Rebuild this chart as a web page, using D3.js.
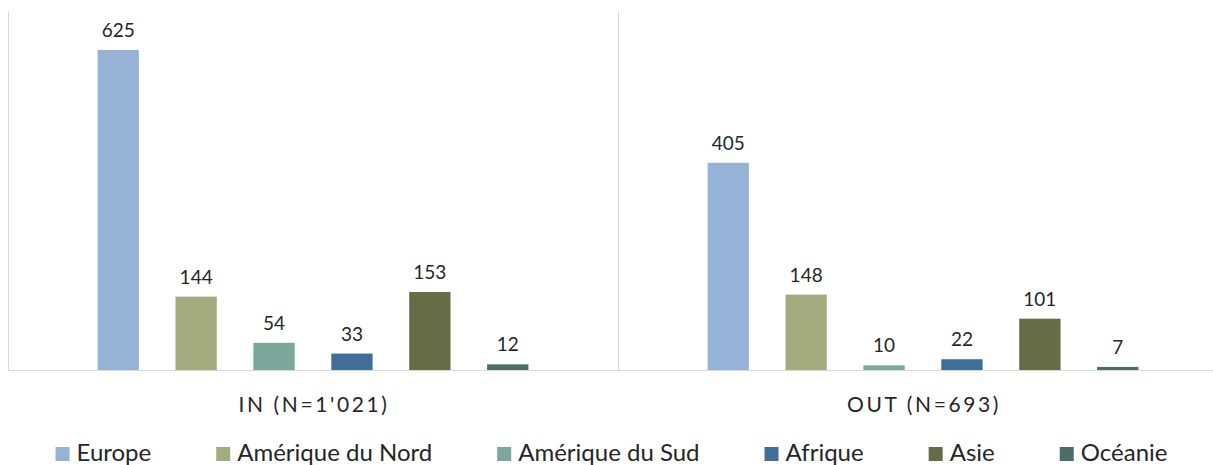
<!DOCTYPE html>
<html>
<head>
<meta charset="utf-8">
<script src="https://cdn.jsdelivr.net/npm/d3@7"></script>
<style>
  body { margin: 0; background: #fff; }
  text { font-family: Lato, "Noto Sans", sans-serif; fill: #262626; }
</style>
</head>
<body>
<div id="chart"></div>
<script>
// categories + series
var groups = ["IN (N=1'021)", "OUT (N=693)"];
var regions = ["Europe", "Amérique du Nord", "Amérique du Sud", "Afrique", "Asie", "Océanie"];
var inValues = [625, 144, 54, 33, 153, 12];
var outValues = [405, 148, 10, 22, 101, 7];
var colors = ["#95b3d6", "#a4ab7f", "#7ba89b", "#3f6e98", "#666c46", "#4a6d65"];

var width = 1213, height = 465;

var svg = d3.select("#chart")
  .append("svg")
  .attr("width", width)
  .attr("height", height);

var x0 = d3.scaleBand()
  .domain(groups)
  .range([8, 1228])
  .padding(0);

var x1 = d3.scaleBand()
  .domain(regions)
  .range([0, x0.bandwidth()])
  .paddingInner(0.47)
  .paddingOuter(1.15);

var y = d3.scaleLinear()
  .domain([0, 700])
  .range([370.5, 11.5]);

var color = d3.scaleOrdinal().domain(regions).range(colors);

var data = groups.map(function(g, i) {
  var vals = i === 0 ? inValues : outValues;
  return { group: g, values: regions.map(function(r, j) { return { region: r, value: vals[j] }; }) };
});

// vertical separators (category tick marks)
var seps = groups.map(function(g) { return x0(g); }).concat([x0.range()[1]]);
svg.append("g")
  .selectAll("line")
  .data(seps)
  .enter().append("line")
  .attr("x1", function(d) { return Math.round(d) + 0.5; })
  .attr("x2", function(d) { return Math.round(d) + 0.5; })
  .attr("y1", y.range()[1])
  .attr("y2", y(0))
  .attr("stroke", "#d9d9d9")
  .attr("stroke-width", 1);

var g = svg.selectAll(".grp")
  .data(data)
  .enter().append("g")
  .attr("class", "grp")
  .attr("transform", function(d) { return "translate(" + x0(d.group) + ",0)"; });

g.selectAll("rect")
  .data(function(d) { return d.values; })
  .enter().append("rect")
  .attr("x", function(d) { return x1(d.region); })
  .attr("width", x1.bandwidth())
  .attr("y", function(d) { return y(d.value); })
  .attr("height", function(d) { return y(0) - y(d.value); })
  .attr("fill", function(d) { return color(d.region); });

g.selectAll(".val")
  .data(function(d) { return d.values; })
  .enter().append("text")
  .attr("class", "val")
  .attr("x", function(d) { return x1(d.region) + x1.bandwidth() / 2; })
  .attr("y", function(d) { return y(d.value) - 13; })
  .attr("text-anchor", "middle")
  .style("font-size", "19px")
  .text(function(d) { return d.value; });

// baseline
svg.append("line")
  .attr("x1", 8)
  .attr("x2", width)
  .attr("y1", 370.5)
  .attr("y2", 370.5)
  .attr("stroke", "#d9d9d9")
  .attr("stroke-width", 1.2);

// group labels
g.append("text")
  .attr("x", x0.bandwidth() / 2 + 1)
  .attr("y", 412)
  .attr("text-anchor", "middle")
  .style("font-size", "21px")
  .style("letter-spacing", "2.6px")
  .text(function(d) { return d.group; });

// legend
var legend = svg.append("g").attr("class", "legend");
var items = legend.selectAll(".item")
  .data(regions)
  .enter().append("g")
  .attr("class", "item");

items.append("rect")
  .attr("x", 0)
  .attr("y", 447)
  .attr("width", 14)
  .attr("height", 14)
  .attr("fill", function(d) { return color(d); });

items.append("text")
  .attr("x", 21)
  .attr("y", 461)
  .style("font-size", "24px")
  .text(function(d) { return d; });

var pos = 0, offs = [];
items.each(function() {
  var w = d3.select(this).select("text").node().getComputedTextLength();
  offs.push(pos);
  pos += 21 + w + 65;
});
var total = pos - 65;
var start = 611.5 - total / 2;
items.attr("transform", function(d, i) { return "translate(" + (start + offs[i]) + ",0)"; });
</script>
</body>
</html>
